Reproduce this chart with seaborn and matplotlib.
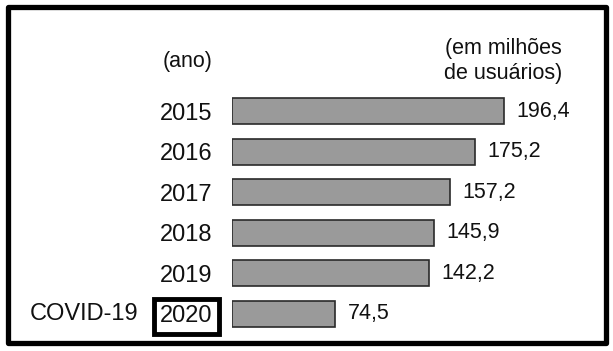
import matplotlib
matplotlib.use("Agg")
import matplotlib.pyplot as plt
import matplotlib.transforms as mtransforms
from matplotlib.patches import Rectangle
import pandas as pd
import seaborn as sns

# dados
anos = ["2015", "2016", "2017", "2018", "2019", "2020"]
usuarios = [196.4, 175.2, 157.2, 145.9, 142.2, 74.5]
rotulos = ["196,4", "175,2", "157,2", "145,9", "142,2", "74,5"]

df = pd.DataFrame({"ano": anos, "usuarios": usuarios})

sns.set_style("white")
plt.rcParams["font.family"] = ["Liberation Sans", "DejaVu Sans"]

W, H = 613, 351
fig = plt.figure(figsize=(W / 100, H / 100), dpi=100)
ax = fig.add_axes([232 / W, (H - 334.3) / H, 374 / W, 243.6 / H])

sns.barplot(data=df, y="ano", x="usuarios", orient="h", color="#9a9a9a",
            saturation=1, width=0.64, edgecolor="#2a2a2a", linewidth=1.2, ax=ax)

ax.set_xlim(0, 270)
ax.set_ylim(5.5, -0.5)
ax.set_xlabel("")
ax.set_ylabel("")
ax.set_xticks([])
for s in ax.spines.values():
    s.set_visible(False)

ax.tick_params(axis="y", length=0, pad=14, labelsize=17, labelcolor="#111111")
lab = ax.get_yticklabels()
lab[-1].set_bbox(dict(boxstyle="square,pad=0.26", facecolor="none",
                      edgecolor="black", linewidth=3.5))

# valores
for i, (v, t) in enumerate(zip(usuarios, rotulos)):
    ax.text(v + 9, i, t, va="center", ha="left", fontsize=15.5, color="#111111")

trans = mtransforms.blended_transform_factory(fig.transFigure, ax.transData)
ax.text(30 / W, 5, "COVID-19", transform=trans, va="center", ha="left",
        fontsize=17, color="#111111")

fig.text(188 / W, (H - 62) / H, "(ano)", ha="center", va="center",
         fontsize=15.5, color="#111111")
fig.text(562 / W, (H - 61) / H, "(em milhões\nde usuários)", ha="right",
         va="center", fontsize=15.5, color="#111111", linespacing=1.3)

# moldura
fig.patches.append(Rectangle((8 / W, 8 / H), 598 / W, 336 / H,
                             transform=fig.transFigure, fill=False,
                             edgecolor="black", linewidth=3.8,
                             joinstyle="round"))

fig.savefig("out.png", dpi=100)
